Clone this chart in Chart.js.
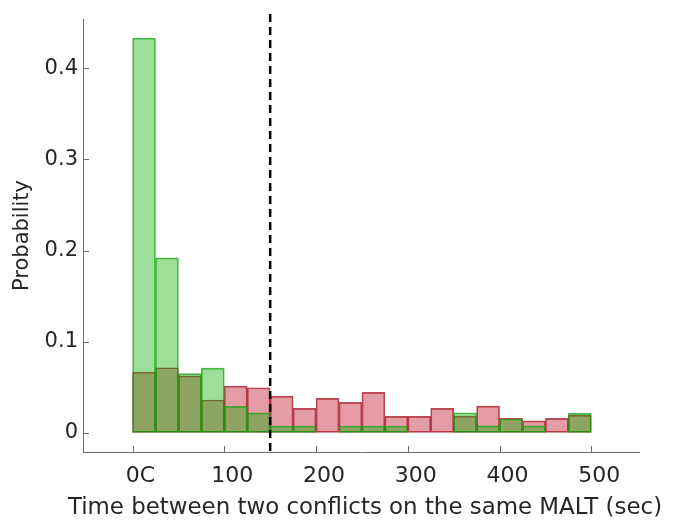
<!DOCTYPE html>
<html>
<head>
<meta charset="utf-8">
<script src="https://cdn.jsdelivr.net/npm/chart.js@4.4.1/dist/chart.umd.min.js"></script>
<style>
  html, body { margin: 0; padding: 0; background: #fff; }
  #wrap { width: 675px; height: 525px; }
</style>
</head>
<body>
<div id="wrap"><canvas id="chart" width="675" height="525"></canvas></div>
<script>
// bin centres (25 s bins, 0..500 s)
const binCenters = [12.5, 37.5, 62.5, 87.5, 112.5, 137.5, 162.5, 187.5, 212.5, 237.5,
                    262.5, 287.5, 312.5, 337.5, 362.5, 387.5, 412.5, 437.5, 462.5, 487.5];

// green histogram (drawn on top)
const greenProb = [0.433, 0.192, 0.065, 0.071, 0.029, 0.022, 0.0075, 0.0075, 0, 0.0075,
                   0.0075, 0.0075, 0, 0, 0.022, 0.0077, 0.0152, 0.0077, 0, 0.0213];

// red histogram
const redProb = [0.0667, 0.0714, 0.0625, 0.036, 0.0513, 0.0495, 0.0403, 0.0268, 0.0378, 0.0334,
                 0.0444, 0.018, 0.018, 0.0268, 0.0183, 0.0293, 0.0158, 0.0132, 0.0158, 0.0195];

// dashed threshold
const cutoffX = 150;
const cutoffY = [-0.02, 0.465];

const xTicks = [0, 100, 200, 300, 400, 500];
const xTickLabels = ['0C', '100', '200', '300', '400', '500'];
const yTicks = [0, 0.1, 0.2, 0.3, 0.4];
const yTickLabels = ['0', '0.1', '0.2', '0.3', '0.4'];
const xTitle = 'Time between two conflicts on the same MALT (sec)';

const FONT = 'DejaVu Sans';
const TXT = '#262626';
const AXIS = '#6e6e6e';

// inside tick marks (matlab style) + x title wider than the axis
const axisExtras = {
    id: 'axisExtras',
    afterDraw(chart) {
        const ctx = chart.ctx;
        const xs = chart.scales.x, ys = chart.scales.y;
        const area = chart.chartArea;
        ctx.save();
        ctx.strokeStyle = AXIS;
        ctx.lineWidth = 1;
        ctx.beginPath();
        xs.ticks.forEach(t => {
            const px = Math.round(xs.getPixelForValue(t.value)) + 0.5;
            ctx.moveTo(px, area.bottom);
            ctx.lineTo(px, area.bottom - 6);
        });
        ys.ticks.forEach(t => {
            const py = Math.round(ys.getPixelForValue(t.value)) + 0.5;
            ctx.moveTo(area.left, py);
            ctx.lineTo(area.left + 6, py);
        });
        ctx.stroke();

        ctx.fillStyle = TXT;
        ctx.font = '22.9px "' + FONT + '"';
        ctx.textAlign = 'center';
        ctx.textBaseline = 'middle';
        ctx.fillText(xTitle, (area.left + area.right) / 2 + 4, chart.height - 17);
        ctx.restore();
    }
};

new Chart(document.getElementById('chart'), {
    type: 'bar',
    data: {
        datasets: [
            {
                type: 'line',
                data: cutoffY.map(v => ({ x: cutoffX, y: v })),
                borderColor: '#000',
                borderWidth: 2.5,
                borderDash: [8, 5],
                pointRadius: 0,
                fill: false,
                clip: false,
                order: 0
            },
            {
                label: 'green',
                data: binCenters.map((c, i) => ({ x: c, y: greenProb[i] })),
                backgroundColor: 'rgba(10,175,0,0.4)',
                borderColor: 'rgba(20,160,20,0.75)',
                borderWidth: 1,
                borderSkipped: false,
                order: 1
            },
            {
                label: 'red',
                data: binCenters.map((c, i) => ({ x: c, y: redProb[i] })),
                backgroundColor: 'rgba(190,10,30,0.4)',
                borderColor: 'rgba(160,15,30,0.75)',
                borderWidth: 1,
                borderSkipped: false,
                order: 2
            }
        ]
    },
    options: {
        responsive: false,
        animation: false,
        grouped: false,
        barPercentage: 1,
        categoryPercentage: 1,
        layout: { padding: { left: 0, top: 19, right: 36, bottom: 0 } },
        plugins: {
            legend: { display: false },
            tooltip: { enabled: false }
        },
        scales: {
            x: {
                type: 'linear',
                offset: false,
                min: -54,
                max: 552,
                afterBuildTicks: s => { s.ticks = xTicks.map(v => ({ value: v })); },
                afterFit: s => { s.height = 73; },
                grid: { drawOnChartArea: false, drawTicks: false, offset: false },
                border: { display: true, color: AXIS, width: 1 },
                ticks: {
                    color: TXT,
                    font: { family: FONT, size: 22 },
                    padding: 11,
                    labelOffset: 8,
                    maxRotation: 0,
                    callback: (v, i) => xTickLabels[i]
                },
                title: { display: false }
            },
            y: {
                min: -0.021,
                max: 0.454,
                afterBuildTicks: s => { s.ticks = yTicks.map(v => ({ value: v })); },
                afterFit: s => { s.width = 83; },
                grid: { drawOnChartArea: false, drawTicks: false },
                border: { display: true, color: AXIS, width: 1 },
                ticks: {
                    color: TXT,
                    font: { family: FONT, size: 21 },
                    padding: 5,
                    callback: (v, i) => yTickLabels[i]
                },
                title: {
                    display: true,
                    text: 'Probability',
                    color: TXT,
                    font: { family: FONT, size: 21 },
                    padding: { top: 10, bottom: 10 }
                }
            }
        }
    },
    plugins: [axisExtras]
});
</script>
</body>
</html>
